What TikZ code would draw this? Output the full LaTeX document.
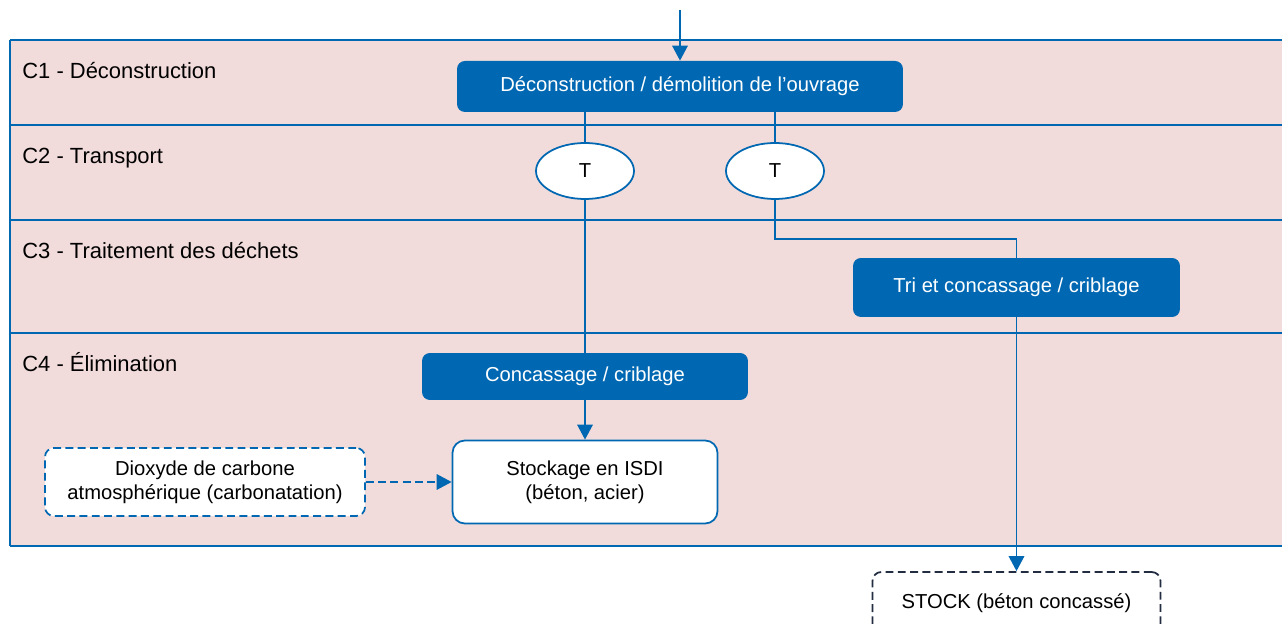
\documentclass[tikz,border=0pt]{standalone}
\usepackage{fontspec}
\setmainfont{Liberation Sans}
\usetikzlibrary{arrows.meta,positioning,shapes.geometric}
\definecolor{laneblue}{RGB}{0,104,178}
\definecolor{lanepink}{RGB}{242,220,219}
\definecolor{stockgray}{RGB}{35,45,65}

\begin{document}
\begin{tikzpicture}[
  x=0.02cm, y=-0.02cm,
  every node/.style={font=\fontsize{11.5}{13.5}\selectfont},
  proc/.style={fill=laneblue,text=white,rounded corners=4.5pt,align=center,inner sep=0pt},
  transp/.style={ellipse,draw=laneblue,line width=1pt,fill=white,minimum width=19.6mm,minimum height=11.2mm,inner sep=0pt},
  store/.style={draw=laneblue,line width=1pt,fill=white,rounded corners=7pt,align=center,inner sep=0pt},
  ext/.style={draw=laneblue,line width=1pt,fill=white,rounded corners=5pt,align=center,inner sep=0pt,dash pattern=on 4.5pt off 2.5pt},
  lanelab/.style={anchor=base west,inner sep=0pt,font=\fontsize{12.5}{15}\selectfont},
  link/.style={laneblue,line width=1pt},
  arr/.style={link,-{Triangle[length=3mm,width=3.1mm]}}
]
\clip (0,0) rectangle (1282,624);
% lanes
\fill[lanepink] (10,40) rectangle (1282,546);
\foreach \y in {40,125,220,333,546}
  \draw[laneblue,line width=1.1pt] (10,\y) -- (1282,\y);
\draw[laneblue,line width=1.1pt] (10,40) -- (10,546);
\node[lanelab] (c1) at (22,79)  {C1 - Déconstruction};
\node[lanelab] (c2) at (22,164) {C2 - Transport};
\node[lanelab] (c3) at (22,259) {C3 - Traitement des déchets};
\node[lanelab] (c4) at (22,372) {C4 - Élimination};

% boxes
\node[proc,minimum width=89.2mm,minimum height=10.2mm] (decon) at (680,86.5) {Déconstruction / démolition de l’ouvrage};
\node[transp] (t1) at (585,171) {T};
\node[transp] (t2) at (775,171) {T};
\node[proc,minimum width=65.4mm,minimum height=11.8mm] (tri) at (1016.5,287.5) {Tri et concassage / criblage};
\node[proc,minimum width=65.2mm,minimum height=9.4mm] (conc) at (585,376.5) {Concassage / criblage};
\node[store,minimum width=53mm,minimum height=16.6mm] (isdi) at (585,482) {Stockage en ISDI\\(béton, acier)};
\node[ext,minimum width=64mm,minimum height=13.6mm] (co2) at (205,482) {Dioxyde de carbone\\atmosphérique (carbonatation)};
\node[ext,draw=stockgray,minimum width=57.6mm,minimum height=12.4mm] (stock) at (1016.5,603) {STOCK (béton concassé)};

% links
\coordinate (entry) at (680,10);
\coordinate (bend) at (775,239);
\draw[arr] (entry) -- (decon.north);
\draw[link] (decon.south -| t1.north) -- (t1.north);
\draw[link] (decon.south -| t2.north) -- (t2.north);
\draw[link] (t1.south) -- (conc.north);
\draw[link] (t2.south) -- (bend) -| (tri.north);
\draw[arr] (tri.south) -- (stock.north);
\draw[arr] (conc.south) -- (isdi.north);
\draw[arr,dash pattern=on 4.5pt off 2.5pt] (co2.east) -- (isdi.west);
\end{tikzpicture}
\end{document}
